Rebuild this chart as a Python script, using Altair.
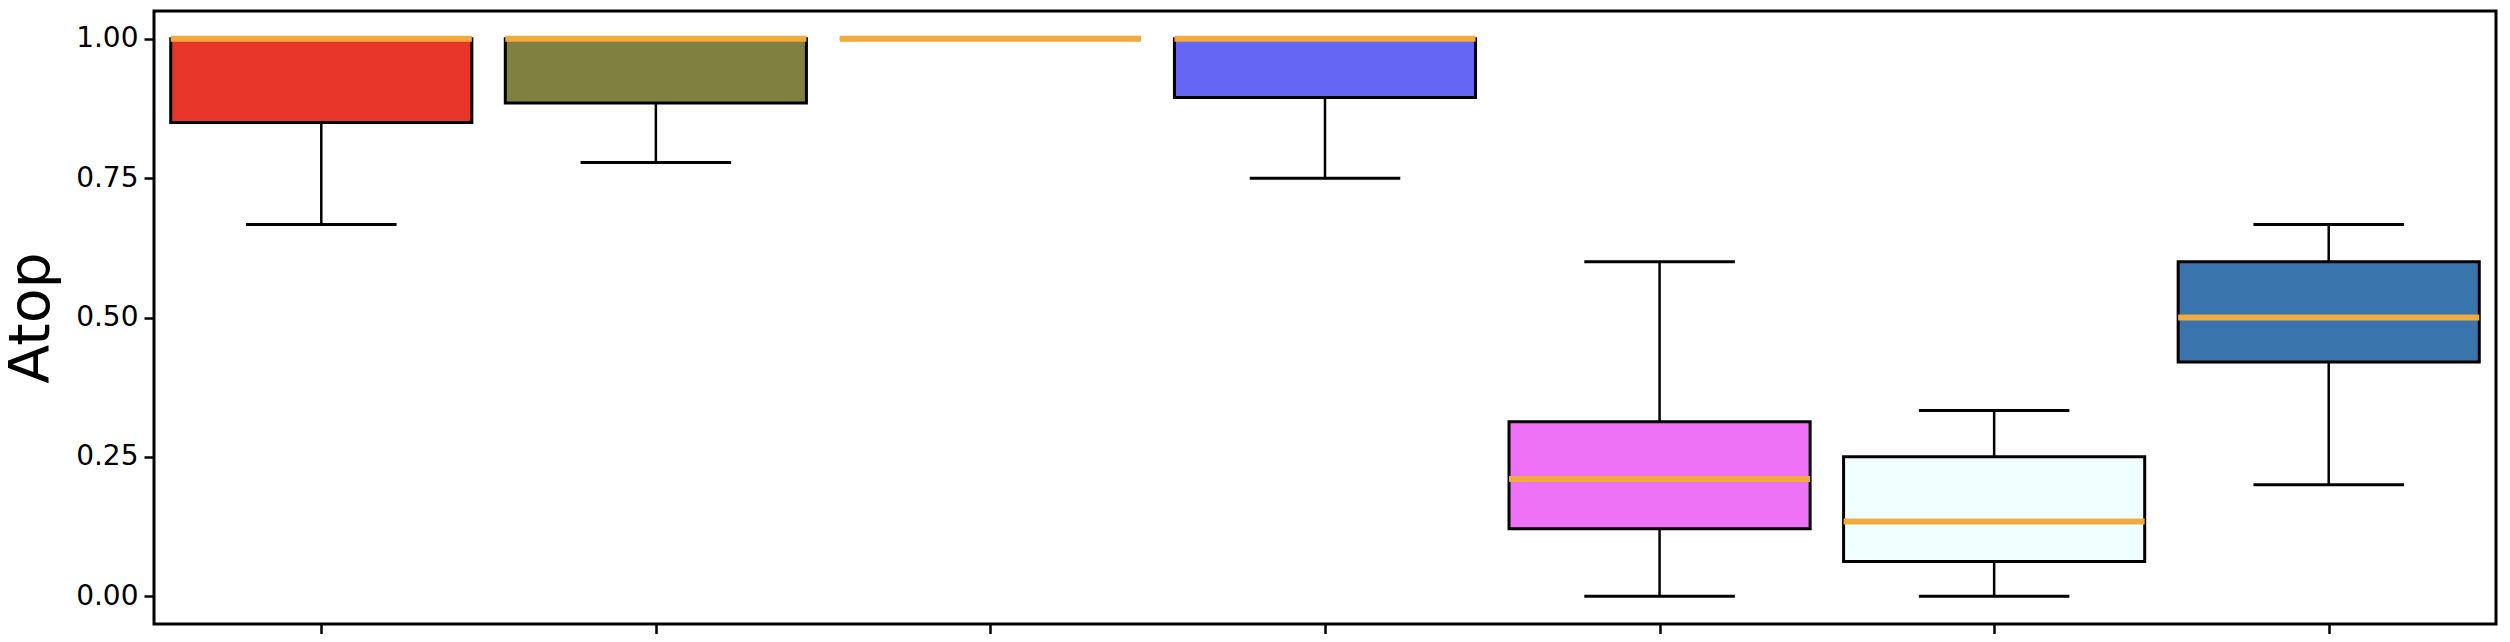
import altair as alt
import pandas as pd

# data
categories = ["A", "B", "C", "D", "E", "F", "G"]
positions = [1, 2, 3, 4, 5, 6, 7]
whisker_low = [0.667, 0.778, 1.0, 0.75, 0.0, 0.0, 0.2]
q1 = [0.85, 0.885, 1.0, 0.895, 0.121, 0.062, 0.42]
median = [1.0, 1.0, 1.0, 1.0, 0.21, 0.134, 0.5]
q3 = [1.0, 1.0, 1.0, 1.0, 0.313, 0.25, 0.6]
whisker_high = [1.0, 1.0, 1.0, 1.0, 0.6, 0.333, 0.667]
fill_colors = ["#E8352A", "#808040", "#FFFFFF", "#6666F5", "#EE72F5", "#F0FFFF", "#3A74AD"]
y_ticks = [0.0, 0.25, 0.5, 0.75, 1.0]

df = pd.DataFrame({
    "cat": categories,
    "pos": positions,
    "wlo": whisker_low,
    "q1": q1,
    "med": median,
    "q3": q3,
    "whi": whisker_high,
    "fill": fill_colors,
})

BOX_W = 0.9
CAP_W = 0.45

xscale = alt.Scale(domain=[0.5, 7.5], nice=False, zero=False)
yscale = alt.Scale(domain=[-0.05, 1.05], nice=False, zero=False)

base = alt.Chart(df).transform_calculate(
    bx1=f"datum.pos - {BOX_W/2}",
    bx2=f"datum.pos + {BOX_W/2}",
    cx1=f"datum.pos - {CAP_W/2}",
    cx2=f"datum.pos + {CAP_W/2}",
)

xaxis = alt.Axis(values=positions, labels=False, title=None, domain=False,
                 tickSize=10, tickWidth=2.5, tickColor="black", grid=False)
yaxis = alt.Axis(values=y_ticks, format=".2f", title="Atop", domain=False,
                 tickSize=10, tickWidth=2.5, tickColor="black", grid=False,
                 labelFontSize=28, labelFont="DejaVu Sans", labelColor="black",
                 labelPadding=6,
                 titleFontSize=57, titleFont="DejaVu Sans", titleFontWeight="normal",
                 titleColor="black", titleAngle=270, titleBaseline="alphabetic",
                 titleAlign="center", titleX=-106, titleY=306.5)

whisk_lo = base.mark_rule(color="black", strokeWidth=2.5).encode(
    x=alt.X("pos:Q", scale=xscale, axis=xaxis),
    y=alt.Y("wlo:Q", scale=yscale, axis=yaxis),
    y2="q1:Q",
)
whisk_hi = base.mark_rule(color="black", strokeWidth=2.5).encode(
    x=alt.X("pos:Q", scale=xscale),
    y=alt.Y("q3:Q", scale=yscale),
    y2="whi:Q",
)
cap_lo = base.mark_rule(color="black", strokeWidth=3).encode(
    x=alt.X("cx1:Q", scale=xscale), x2="cx2:Q",
    y=alt.Y("wlo:Q", scale=yscale),
)
cap_hi = base.mark_rule(color="black", strokeWidth=3).encode(
    x=alt.X("cx1:Q", scale=xscale), x2="cx2:Q",
    y=alt.Y("whi:Q", scale=yscale),
)
box = base.mark_rect(stroke="black", strokeWidth=3).encode(
    x=alt.X("bx1:Q", scale=xscale), x2="bx2:Q",
    y=alt.Y("q1:Q", scale=yscale), y2="q3:Q",
    fill=alt.Fill("fill:N", scale=None),
)
med = base.mark_rule(color="#F2A93E", strokeWidth=6).encode(
    x=alt.X("bx1:Q", scale=xscale), x2="bx2:Q",
    y=alt.Y("med:Q", scale=yscale),
)

chart = alt.layer(whisk_lo, whisk_hi, cap_lo, cap_hi, box, med).properties(
    width=2342,
    height=613,
    background="white",
    autosize=alt.AutoSizeParams(type="none"),
    padding={"left": 146, "top": 3, "right": 6, "bottom": 10},
).configure_view(
    stroke="black", strokeWidth=3, fill="white"
)

chart.save("out.html", embed_options={"renderer": "svg", "actions": False})
